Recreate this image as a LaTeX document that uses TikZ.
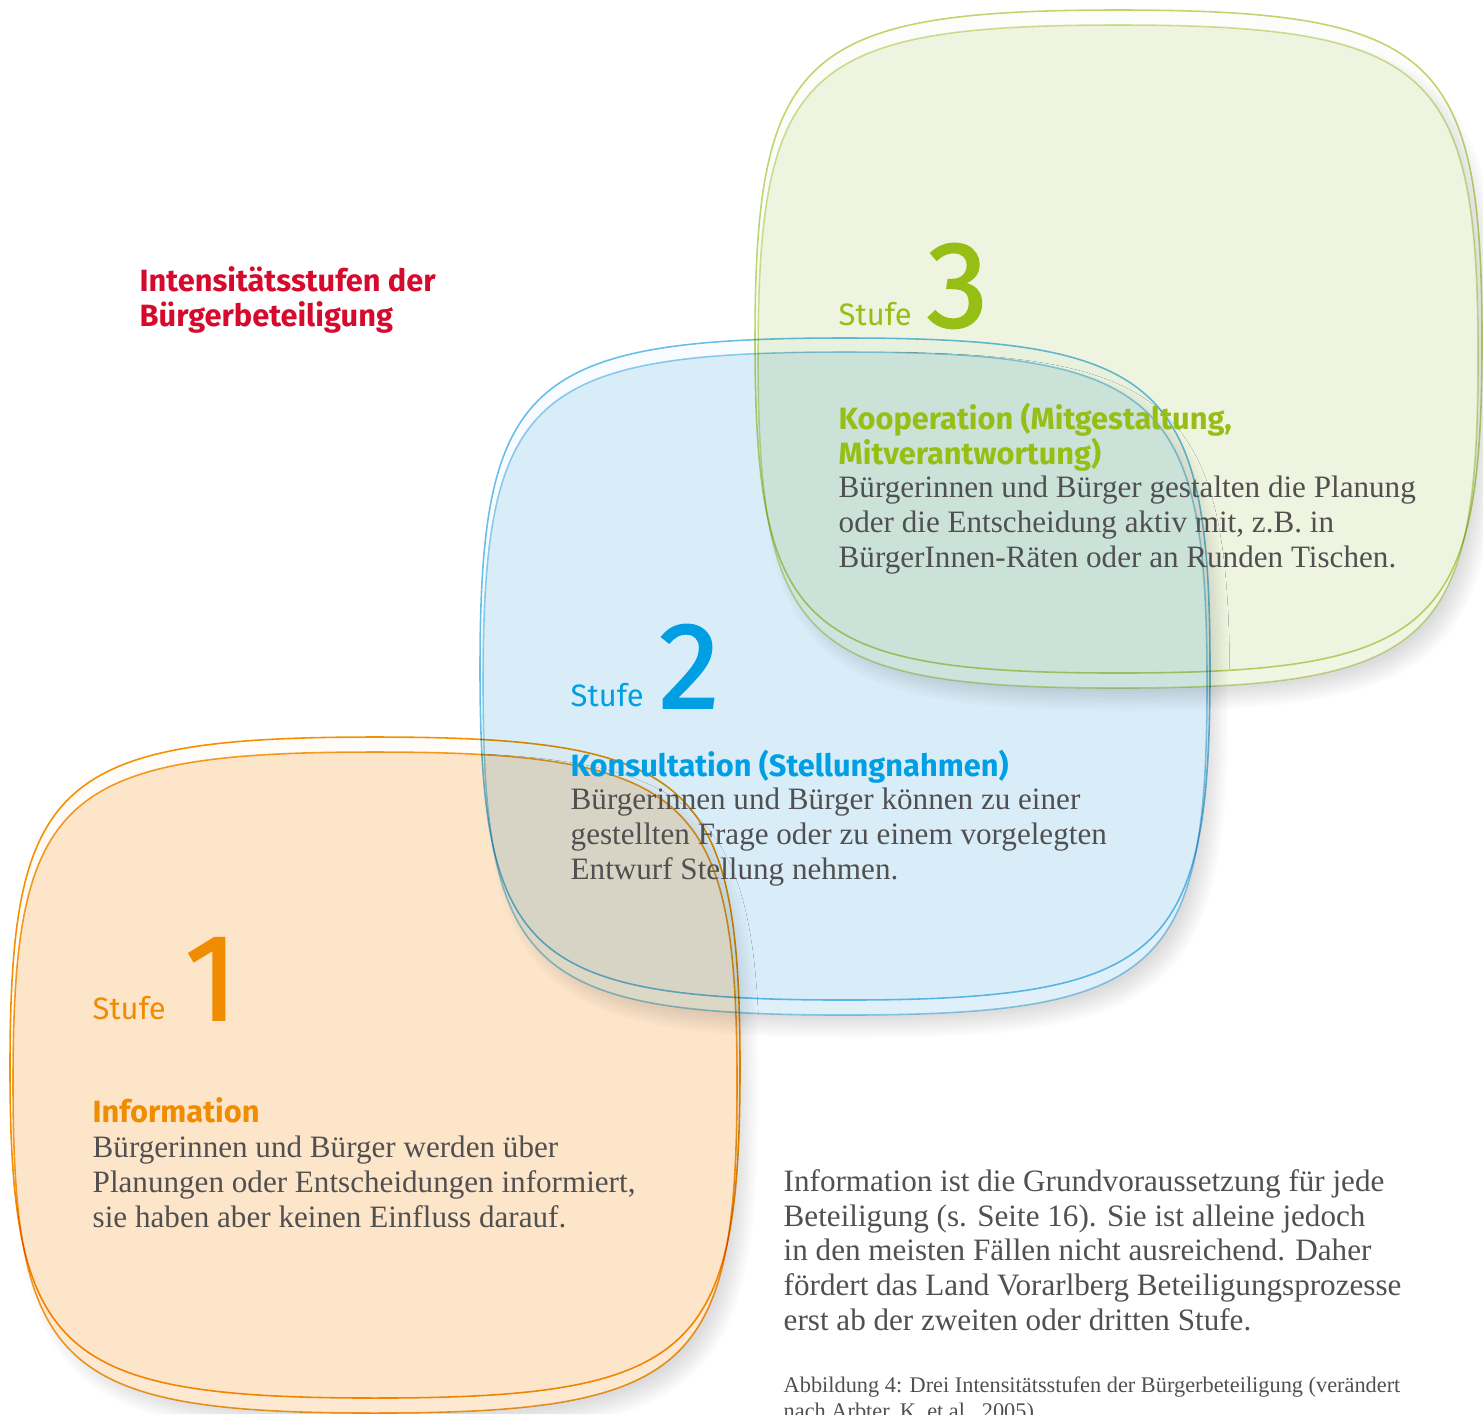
\documentclass[tikz,border=0pt]{standalone}
\usepackage{fontspec}
\setmainfont{Liberation Serif}
\newfontfamily\headfont{Fira Sans}
\newfontfamily\zifferfont{Fira Sans}[FakeBold=1.4]
\usetikzlibrary{shadows.blur}
\definecolor{gruen}{RGB}{150,190,20}
\definecolor{gruenline}{RGB}{190,216,110}
\definecolor{gruenfill}{RGB}{241,246,228}
\definecolor{blau}{RGB}{0,159,227}
\definecolor{blauline}{RGB}{105,193,234}
\definecolor{blaufill}{RGB}{223,240,250}
\definecolor{orng}{RGB}{240,140,0}
\definecolor{orngline}{RGB}{243,146,0}
\definecolor{orngfill}{RGB}{253,233,210}
\definecolor{rot}{RGB}{213,10,45}
\definecolor{textgrau}{RGB}{80,80,80}
% Form: links, oben, breite, hoehe (in px)
\def\kk{45}
\newcommand{\blob}[4]{%
  (#1,#2+#4/2) .. controls (#1,#2+\kk) and (#1+\kk,#2) .. (#1+#3/2,#2)
  .. controls (#1+#3-\kk,#2) and (#1+#3,#2+\kk) .. (#1+#3,#2+#4/2)
  .. controls (#1+#3,#2+#4-\kk) and (#1+#3-\kk,#2+#4) .. (#1+#3/2,#2+#4)
  .. controls (#1+\kk,#2+#4) and (#1,#2+#4-\kk) .. (#1,#2+#4/2) -- cycle}
% Schatten nur ausserhalb der Form
\newcommand{\schatten}[4]{%
  \begin{scope}
    \clip (0,0) rectangle (1483,1414) \blob{#1}{#2}{#3}{#4};
    \path[blur shadow={shadow xshift=3pt, shadow yshift=-3.5pt,
      shadow blur radius=3.5pt, shadow blur steps=20, shadow opacity=14}] \blob{#1}{#2}{#3}{#4};
  \end{scope}}
\tikzset{
  flaeche/.style={blend mode=multiply, line width=0.45pt},
  stufetext/.style={font=\headfont\fontsize{8.8}{10}\selectfont, anchor=base west, inner sep=0pt},
  ziffer/.style={font=\zifferfont\fontsize{35}{35}\selectfont, anchor=base west, inner sep=0pt},
  titel/.style={font=\headfont\bfseries\fontsize{8.75}{9.7}\selectfont, anchor=base west, inner sep=0pt, align=left},
  koerper/.style={font=\fontsize{8.85}{9.82}\selectfont, text=textgrau, anchor=base west, inner sep=0pt, align=left},
  legende/.style={font=\fontsize{6.35}{7.4}\selectfont, text=textgrau, anchor=base west, inner sep=0pt, align=left}
}
\begin{document}
\begin{tikzpicture}[x=0.01cm, y=-0.01cm]
  \useasboundingbox (0,0) rectangle (1483,1414);

  % Stufe 3
  \schatten{758}{25}{720}{663}
  \path[flaeche, fill=gruenfill, draw=gruenline!70] \blob{758}{25}{720}{663};
  \path[flaeche, fill=gruenfill!20, draw=gruenline] \blob{755}{10}{727}{663};
  % Stufe 2
  \schatten{483}{352}{724}{663}
  \path[flaeche, fill=blaufill, draw=blauline!70] \blob{483}{352}{724}{663};
  \path[flaeche, fill=blaufill!20, draw=blauline] \blob{480}{338}{730}{662};
  % Stufe 1
  \schatten{13}{752}{724}{661}
  \path[flaeche, fill=orngfill, draw=orngline!85] \blob{13}{752}{724}{661};
  \path[flaeche, fill=orngfill!20, draw=orngline] \blob{10}{737}{730}{661};

  % Titel (base = letzte Zeile)
  \node[titel, text=rot] (titel) at (139,326) {Intensitätsstufen der\\Bürgerbeteiligung};

  % Texte Stufe 3
  \node[stufetext, text=gruen] (stufe3) at (838,325) {Stufe};
  \node[ziffer, text=gruen] (ziffer3) at (926,327) {3};
  \node[titel, text=gruen] (kopf3) at (838,464) {Kooperation (Mitgestaltung,\\Mitverantwortung)};
  \node[koerper] (text3) at (838,567) {Bürgerinnen und Bürger gestalten die Planung\\
    oder die Entscheidung aktiv mit, z.B. in\\BürgerInnen-Räten oder an Runden Tischen.};

  % Texte Stufe 2
  \node[stufetext, text=blau] (stufe2) at (570,706) {Stufe};
  \node[ziffer, text=blau] (ziffer2) at (658,708) {2};
  \node[titel, text=blau] (kopf2) at (570,776) {Konsultation (Stellungnahmen)};
  \node[koerper] (text2) at (570,879) {Bürgerinnen und Bürger können zu einer\\
    gestellten Frage oder zu einem vorgelegten\\Entwurf Stellung nehmen.};

  % Texte Stufe 1
  \node[stufetext, text=orng] (stufe1) at (92,1019) {Stufe};
  \node[ziffer, text=orng] (ziffer1) at (184,1020) {1};
  \node[titel, text=orng] (kopf1) at (92,1122) {Information};
  \node[koerper] (text1) at (92,1227) {Bürgerinnen und Bürger werden über\\
    Planungen oder Entscheidungen informiert,\\sie haben aber keinen Einfluss darauf.};

  % Erlaeuterung
  \node[koerper] (hinweis) at (783,1330) {Information ist die Grundvoraussetzung für jede\\
    Beteiligung (s. Seite 16). Sie ist alleine jedoch\\
    in den meisten Fällen nicht ausreichend. Daher\\
    fördert das Land Vorarlberg Beteiligungsprozesse\\
    erst ab der zweiten oder dritten Stufe.};
  \node[legende] (abb) at (783,1418) {Abbildung 4: Drei Intensitätsstufen der Bürgerbeteiligung (verändert\\
    nach Arbter, K. et al., 2005)};
\end{tikzpicture}
\end{document}
